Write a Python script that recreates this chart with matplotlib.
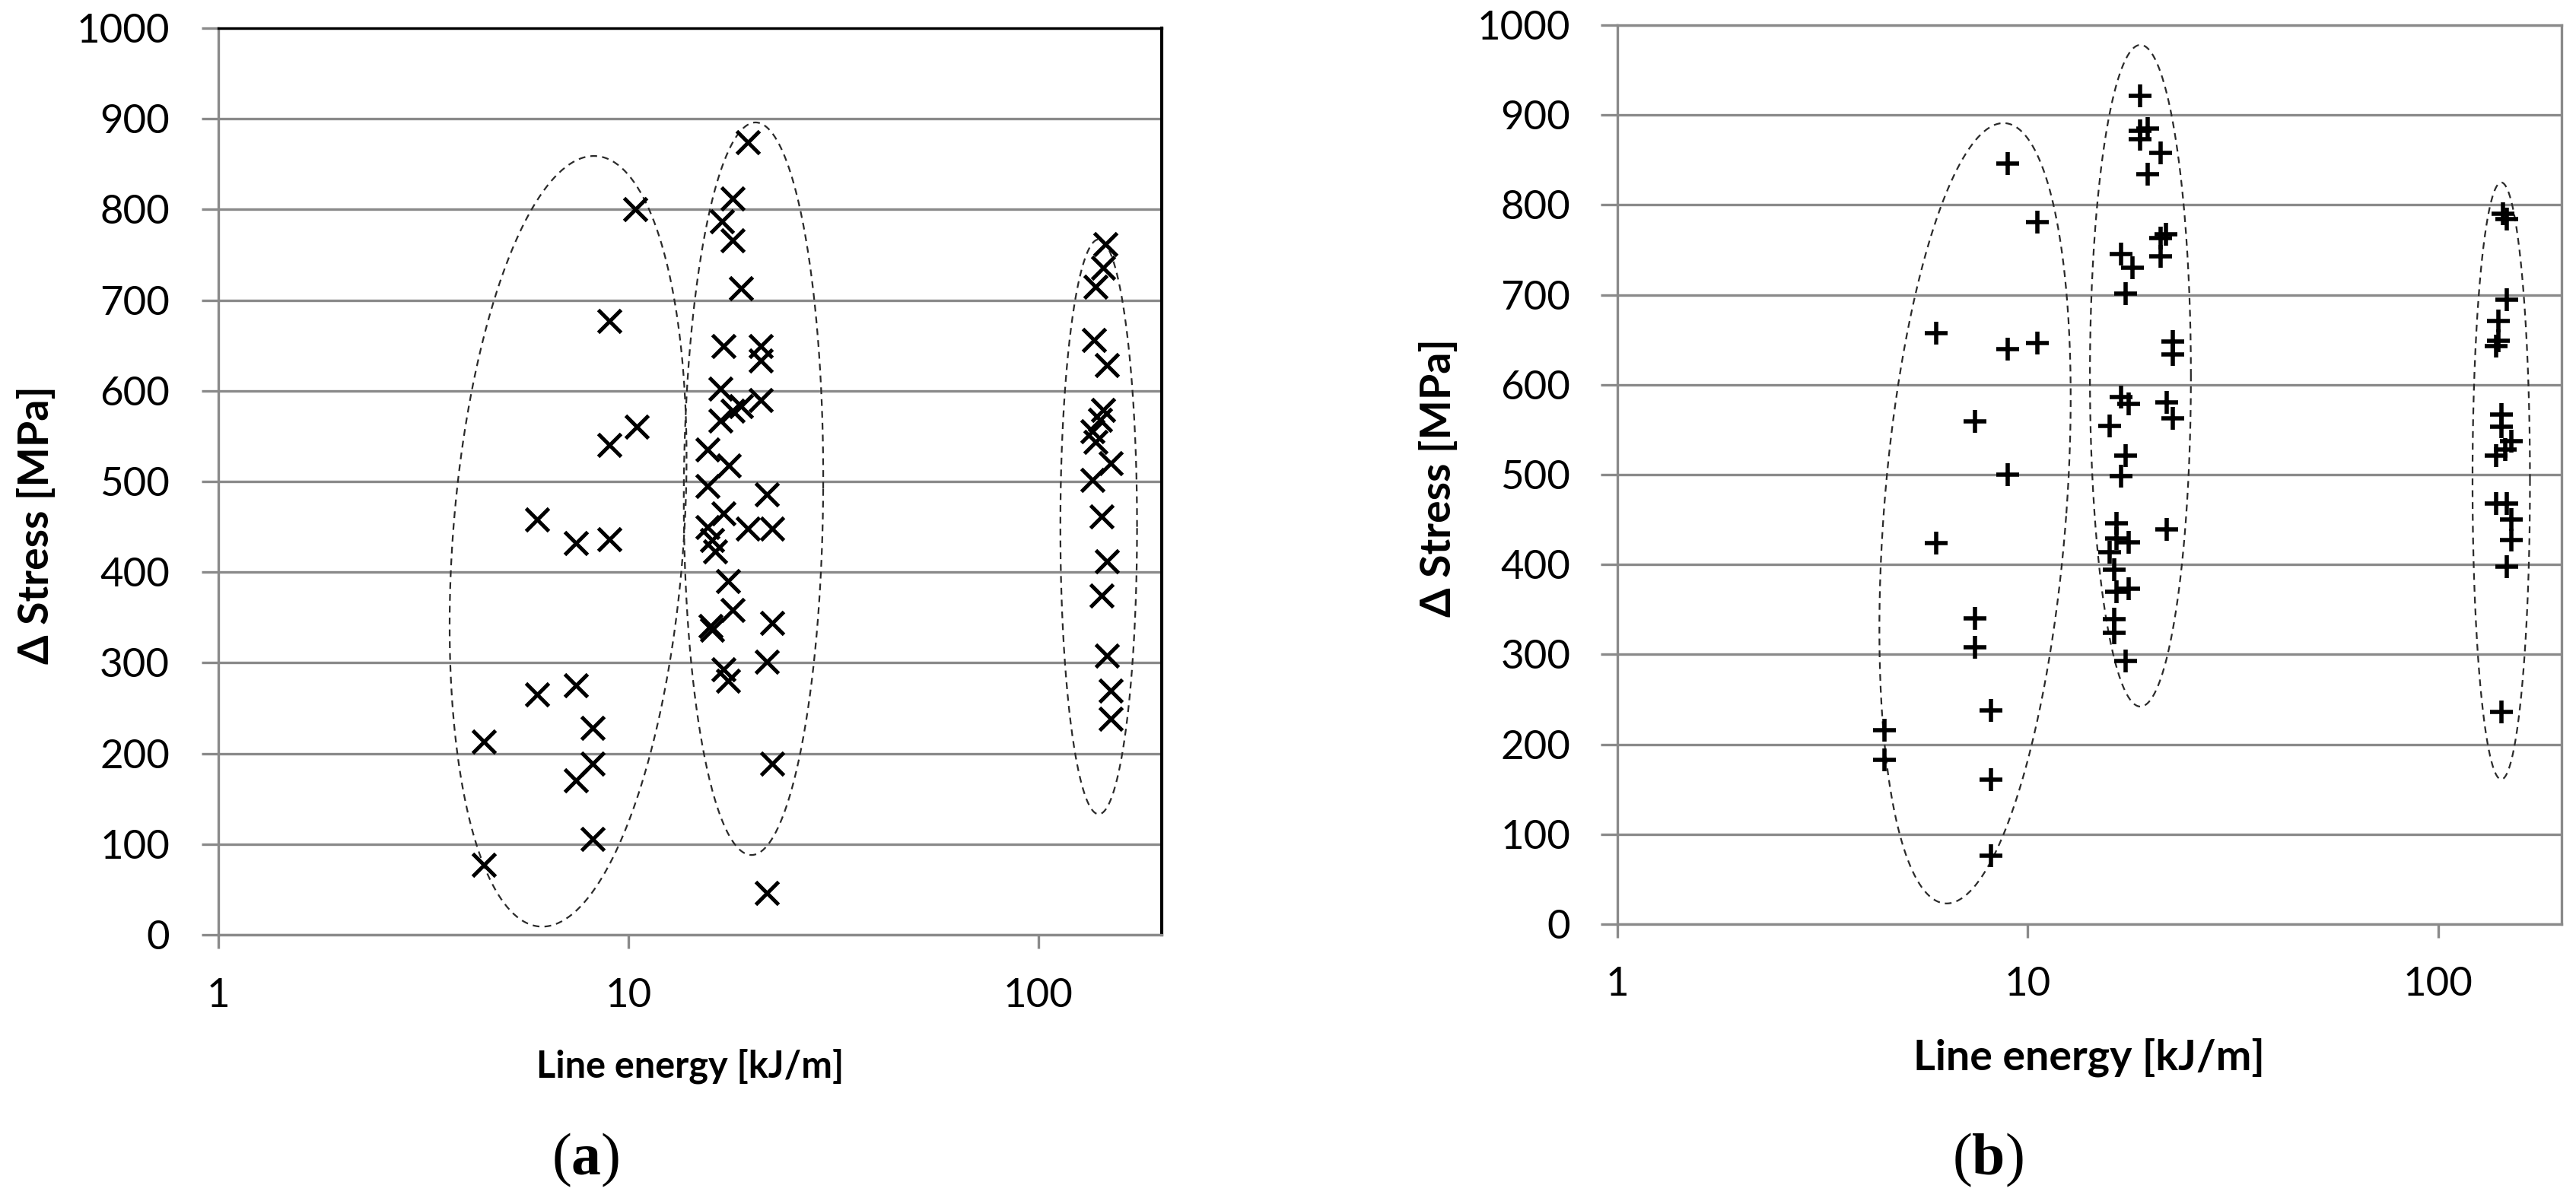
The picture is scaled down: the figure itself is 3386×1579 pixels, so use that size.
import numpy as np
import matplotlib
matplotlib.use("Agg")
import matplotlib.pyplot as plt
from matplotlib.ticker import NullLocator, FixedLocator

plt.rcParams['font.family'] = ['Lato', 'DejaVu Sans']
plt.rcParams['mathtext.fontset'] = 'custom'
plt.rcParams['mathtext.rm'] = 'Liberation Serif'
plt.rcParams['mathtext.bf'] = 'Liberation Serif:bold'

# ---------------- data: panel (a) ----------------
a_low_energy = [4.45, 4.45, 6.0, 6.0, 7.45, 7.45, 7.45, 8.2, 8.2, 8.2, 9.0, 9.0, 9.0, 10.4, 10.5]
a_low_stress = [213, 77, 458, 265, 432, 275, 170, 228, 189, 106, 677, 540, 436, 800, 560]

a_mid_energy = [19.6, 18.0, 16.9, 18.0, 18.8, 17.1, 21.0, 21.0, 16.8, 21.0, 18.8, 16.8, 18.0,
                15.6, 17.6, 15.6, 21.8, 17.1, 15.6, 19.6, 22.4, 16.0, 16.3, 17.5, 18.0, 15.9,
                16.0, 22.4, 17.1, 17.5, 21.8, 22.4, 21.8]
a_mid_stress = [874, 812, 787, 766, 713, 649, 649, 633, 602, 590, 583, 567, 578,
                535, 518, 495, 486, 465, 450, 448, 448, 435, 423, 390, 358, 341,
                336, 344, 293, 280, 301, 189, 46]

a_high_energy = [145.8, 143.8, 138.0, 136.8, 146.9, 143.8, 141.7, 135.8, 138.0, 150.0, 135.8,
                 142.7, 146.9, 142.7, 146.9, 150.0, 150.0]
a_high_stress = [762, 736, 715, 656, 628, 579, 568, 555, 544, 520, 502,
                 461, 412, 374, 308, 269, 238]

# ---------------- data: panel (b) ----------------
b_low_energy = [8.95, 10.56, 6.0, 8.95, 10.56, 7.45, 8.95, 6.0, 7.45, 7.45, 8.16, 4.48, 4.48, 8.16, 8.16]
b_low_stress = [846, 781, 657, 640, 646, 559, 500, 424, 340, 308, 238, 216, 183, 161, 76]

b_mid_energy = [18.84, 18.84, 19.66, 18.84, 21.1, 19.66, 21.7, 21.1, 21.1, 16.93, 18.05, 17.34,
                22.56, 22.56, 16.93, 17.66, 21.87, 22.56, 15.88, 17.34, 16.93, 16.5, 21.87,
                16.5, 17.6, 15.85, 16.26, 16.5, 17.6, 16.26, 16.26, 17.34]
b_mid_stress = [921, 882, 885, 873, 858, 834, 767, 763, 743, 745, 730, 701,
                648, 634, 586, 579, 580, 563, 554, 521, 498, 446, 439,
                429, 425, 414, 394, 370, 373, 339, 324, 293]

b_high_energy = [144.0, 147.0, 147.4, 140.3, 140.3, 138.3, 142.7, 142.7, 150.6, 146.0, 138.3,
                 138.3, 146.8, 150.6, 150.6, 146.8, 142.7]
b_high_stress = [790, 784, 695, 671, 649, 643, 567, 553, 537, 528, 521,
                 468, 468, 450, 427, 398, 236]

# ---------------- grouping ellipses (centre energy, centre stress, half-width [decades], half-height [MPa], tilt [decades]) ----
a_ell_energy = [7.13, 20.2, 140.4]
a_ell_stress = [434, 492, 450]
a_ell_halfw = [0.282, 0.170, 0.0935]
a_ell_halfh = [425, 404, 317]
a_ell_tilt = [0.063, 0.005, 0.0]

b_ell_energy = [7.45, 18.84, 142.6]
b_ell_stress = [457, 610, 493]
b_ell_halfw = [0.2225, 0.123, 0.070]
b_ell_halfh = [434, 368, 332]
b_ell_tilt = [0.0693, 0.0, 0.0]

y_ticks = list(range(0, 1001, 100))
x_ticks = [1, 10, 100]
x_ticklabels = ['1', '10', '100']

GRID = '#8a8a8a'
W, H = 3386, 1579

fig = plt.figure(figsize=(W / 100, H / 100), dpi=100)
axL = fig.add_axes([287 / W, 1 - 1229 / H, 1240 / W, 1192 / H])
axR = fig.add_axes([2125.5 / W, 1 - 1215 / H, 1241.5 / W, 1182 / H])


def style(ax, xpad, ypad):
    ax.set_xscale('log')
    ax.set_xlim(1, 200)
    ax.set_ylim(0, 1000)
    ax.yaxis.set_major_locator(FixedLocator(y_ticks))
    ax.xaxis.set_major_locator(FixedLocator(x_ticks))
    ax.set_xticklabels(x_ticklabels)
    ax.xaxis.set_minor_locator(NullLocator())
    ax.grid(axis='y', color=GRID, lw=2.4)
    ax.grid(axis='x', visible=False)
    ax.set_axisbelow(True)
    ax.tick_params(axis='y', direction='out', length=16, width=2.4,
                   pad=ypad, labelsize=38, colors='black')
    ax.tick_params(axis='y', color=GRID)
    ax.tick_params(axis='x', direction='out', length=13, width=2.4,
                   pad=xpad, labelsize=38, colors='black')
    ax.tick_params(axis='x', color=GRID)
    for s in ['left', 'bottom', 'top', 'right']:
        ax.spines[s].set_color(GRID)
        ax.spines[s].set_linewidth(2.4)


def ellipses(ax, ce, cs, hw, hh, tl):
    t = np.linspace(0, 2 * np.pi, 400)
    for e, s, a, b, k in zip(ce, cs, hw, hh, tl):
        lx = np.log10(e) + a * np.cos(t) + k * np.sin(t)
        yy = s + b * np.sin(t)
        ax.plot(10 ** lx, yy, color='#2a2a2a', lw=1.6, ls=(0, (4, 3)), zorder=3)


style(axL, 28, 30)
style(axR, 27, 28)
axL.spines['top'].set_color('black')
axL.spines['right'].set_color('black')
axL.spines['right'].set_linewidth(3)

ellipses(axL, a_ell_energy, a_ell_stress, a_ell_halfw, a_ell_halfh, a_ell_tilt)
ellipses(axR, b_ell_energy, b_ell_stress, b_ell_halfw, b_ell_halfh, b_ell_tilt)

mk = dict(ls='none', color='black', zorder=4)
for xe, ys in [(a_low_energy, a_low_stress), (a_mid_energy, a_mid_stress), (a_high_energy, a_high_stress)]:
    axL.plot(xe, ys, marker='x', ms=22, mew=3.6, **mk)
for xe, ys in [(b_low_energy, b_low_stress), (b_mid_energy, b_mid_stress), (b_high_energy, b_high_stress)]:
    axR.plot(xe, ys, marker='+', ms=21, mew=4.0, **mk)

# axis titles
fig.text(48 / W, 1 - 690 / H, 'Δ Stress [MPa]', rotation=90, ha='center', va='center',
         fontsize=40, fontweight='bold')
fig.text(1890 / W, 1 - 628 / H, 'Δ Stress [MPa]', rotation=90, ha='center', va='center',
         fontsize=40, fontweight='bold')
fig.text(907 / W, 1 - 1402 / H, 'Line energy [kJ/m]', ha='center', va='center',
         fontsize=35, fontweight='bold')
fig.text(2746 / W, 1 - 1390 / H, 'Line energy [kJ/m]', ha='center', va='center',
         fontsize=40, fontweight='bold')

# panel labels
fig.text(770 / W, 1 - 1525 / H, r'($\mathbf{a}$)', ha='center', va='center', fontsize=56,
         family='Liberation Serif')
fig.text(2613 / W, 1 - 1525 / H, r'($\mathbf{b}$)', ha='center', va='center', fontsize=56,
         family='Liberation Serif')

fig.savefig('out.png', dpi=100, facecolor='white')
